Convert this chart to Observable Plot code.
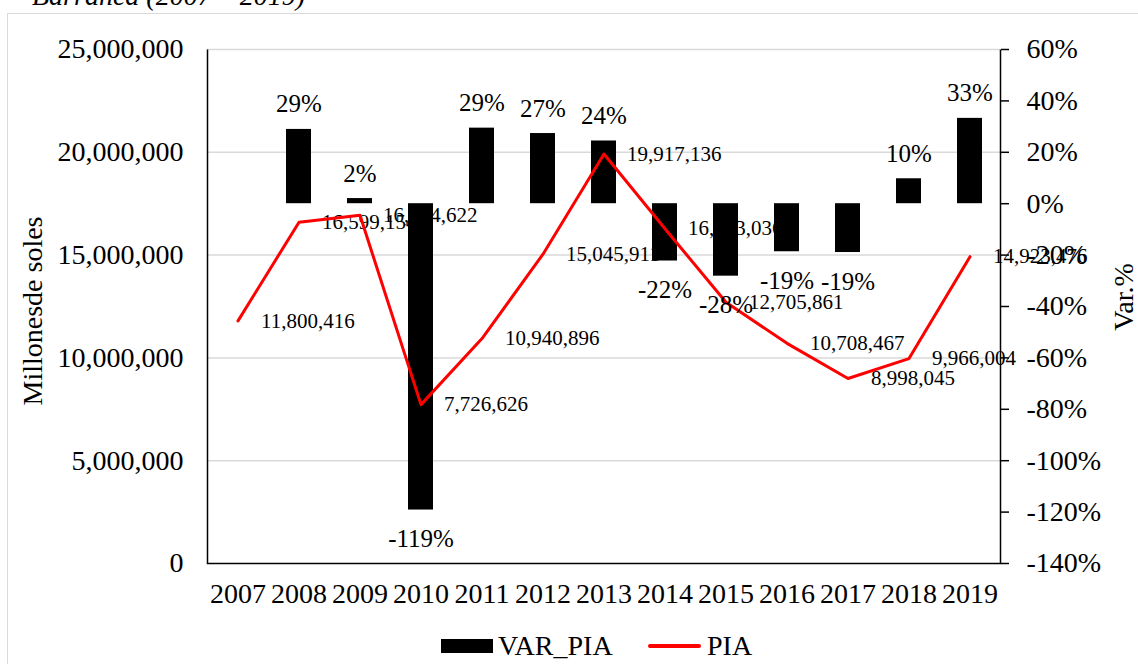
<!DOCTYPE html>
<html>
<head>
<meta charset="utf-8">
<script src="https://cdn.jsdelivr.net/npm/d3@7"></script>
<script src="https://cdn.jsdelivr.net/npm/@observablehq/plot@0.6"></script>
<style>
  html, body { margin: 0; padding: 0; background: #fff; }
  body { position: relative; width: 1138px; height: 664px; overflow: hidden; font-family: "Liberation Serif", "Times New Roman", serif; color: #000; }
  #title { position: absolute; left: 32px; top: -18px; font-size: 28px; line-height: 1; font-style: italic; white-space: nowrap; }
  #frame { position: absolute; left: 7px; top: 13px; width: 1200px; height: 700px; border: 1.5px solid #d9d9d9; }
  #chart { position: absolute; left: 0; top: 0; }
  .vlabel { position: absolute; font-size: 28px; line-height: 1; white-space: nowrap; transform: translate(-50%, -50%) rotate(-90deg); }
  #legend { position: absolute; left: 0; top: 0; }
  .lg-text { position: absolute; font-size: 28px; line-height: 1; white-space: nowrap; }
</style>
</head>
<body>
<div id="frame"></div>
<div id="title">Barranca (2007 – 2019)</div>
<div id="chart"></div>
<div class="vlabel" style="left:33px; top:311px;">Millonesde soles</div>
<div class="vlabel" style="left:1124px; top:297px;">Var.%</div>
<div style="position:absolute; left:441px; top:639px; width:52px; height:14px; background:#000;"></div>
<div class="lg-text" style="left:498px; top:632px;">VAR_PIA</div>
<div style="position:absolute; left:648px; top:644px; width:53px; height:3.5px; background:#ff0000; border-radius:2px;"></div>
<div class="lg-text" style="left:707px; top:632px;">PIA</div>
<script>
const years = [2007, 2008, 2009, 2010, 2011, 2012, 2013, 2014, 2015, 2016, 2017, 2018, 2019];
const pia = [11800416, 16599154, 16934622, 7726626, 10940896, 15045911, 19917136, 16283036, 12705861, 10708467, 8998045, 9966004, 14923476];
const varPia = [null, 0.289, 0.020, -1.192, 0.294, 0.273, 0.244, -0.223, -0.282, -0.187, -0.190, 0.097, 0.332];
const leftTicks = [0, 5000000, 10000000, 15000000, 20000000, 25000000];
const rightTicks = [0.6, 0.4, 0.2, 0, -0.2, -0.4, -0.6, -0.8, -1.0, -1.2, -1.4];

const yMax = 25000000, pMin = -1.4, pMax = 0.6;
const toLeft = p => (p - pMin) / (pMax - pMin) * yMax;
const fromLeft = v => v / yMax * (pMax - pMin) + pMin;
const pct = p => Math.round(p * 100) + "%";
const num = d3.format(",");

const data = years.map((y, i) => ({year: String(y), pia: pia[i], v: varPia[i]}));
const bars = data.filter(d => d.v != null);

const chart = Plot.plot({
  width: 1138,
  height: 620,
  marginLeft: 207,
  marginRight: 138,
  marginTop: 49,
  marginBottom: 57,
  style: {fontFamily: "Liberation Serif, Times New Roman, serif", background: "transparent", color: "#000", overflow: "visible"},
  x: {type: "band", domain: years.map(String), paddingInner: 0.59, paddingOuter: 0.295, label: null},
  y: {domain: [0, yMax], label: null},
  marks: [
    Plot.ruleY(leftTicks.slice(1), {stroke: "#d9d9d9", strokeWidth: 1.5}),
    Plot.frame({stroke: "#000", strokeWidth: 1.5, strokeDasharray: "0,793,1821"}),
    Plot.text(data, {x: "year", y: "pia", text: d => num(d.pia), textAnchor: "start", dx: 23, fontSize: 21, fill: "#000"}),
    Plot.barY(bars, {x: "year", y1: () => toLeft(0), y2: d => toLeft(d.v), fill: "#000"}),
    Plot.lineY(data, {x: "year", y: "pia", stroke: "#ff0000", strokeWidth: 3}),
    Plot.text(bars, {x: "year", y: d => toLeft(d.v), text: d => pct(d.v), dy: d => 0, fontSize: 25, fill: "#000",
      filter: d => d.v >= 0, lineAnchor: "middle", dy: -25}),
    Plot.text(bars, {x: "year", y: d => toLeft(d.v), text: d => pct(d.v), fontSize: 25, fill: "#000",
      filter: d => d.v < 0, lineAnchor: "middle", dy: 29}),
    Plot.axisY(leftTicks, {anchor: "left", tickFormat: num, tickSize: 0, tickPadding: 24, fontSize: 28, label: null}),
    Plot.axisY(rightTicks.map(toLeft), {anchor: "right", tickFormat: v => pct(fromLeft(v)), tickSize: 8, tickPadding: 18, fontSize: 28, strokeWidth: 1.5, label: null}),
    Plot.axisX({tickSize: 0, tickPadding: 20, fontSize: 28, label: null})
  ]
});
document.getElementById("chart").appendChild(chart);
</script>
</body>
</html>
